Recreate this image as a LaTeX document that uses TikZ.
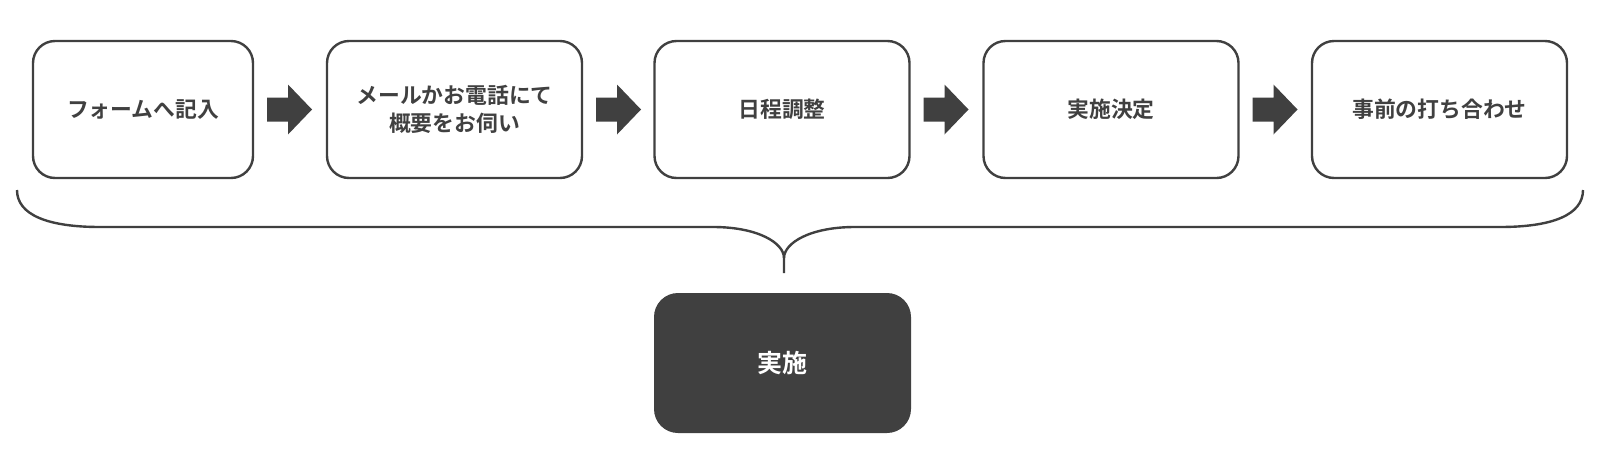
\documentclass[tikz,border=0pt]{standalone}
\usepackage{fontspec}
\newfontfamily\jp{Noto Sans CJK JP}[BoldFont={Noto Sans CJK JP Bold}]
\usetikzlibrary{calc}
\definecolor{dk}{HTML}{404040}
\begin{document}
\begin{tikzpicture}[x=1pt,y=-1pt,
  stepbox/.style={draw=dk, line width=2.4pt, rounded corners=22pt, fill=white,
    minimum width=255pt, minimum height=137pt, inner sep=0pt, outer sep=0pt,
    text=dk, font=\jp\bfseries\fontsize{21.8}{28}\selectfont, align=center},
  finalbox/.style={fill=dk, rounded corners=24pt, minimum width=257pt, minimum height=140pt,
    inner sep=0pt, text=white, font=\jp\bfseries\fontsize{25}{30}\selectfont},
  blockarrow/.style={fill=dk},
  bracestyle/.style={draw=dk, line width=2.4pt}]
\useasboundingbox (0,0) rectangle (1600,464);
\fill[white] (0,0) rectangle (1600,464);
\node[stepbox, minimum width=220pt] (b1) at (143,109.5) {フォームへ記入};
\node[stepbox] (b2) at (454.5,109.5) {メールかお電話にて\\概要をお伺い};
\node[stepbox] (b3) at (782,109.5) {日程調整};
\node[stepbox] (b4) at (1111,109.5) {実施決定};
\node[stepbox] (b5) at (1439.5,109.5) {事前の打ち合わせ};
\node[finalbox] (b6) at (782.5,363) {実施};
\foreach \s in {b1,b2,b3,b4}{
  \coordinate (a) at ($(\s.east)+(14,0)$);
  \fill[blockarrow] ($(a)+(0,-12)$) -- ++(21,0) -- ++(0,-13) -- ($(a)+(45,0)$)
    -- ($(a)+(21,25)$) -- ++(0,-13) -- ($(a)+(0,12)$) -- cycle;
}
\coordinate (bl) at (17,190);
\coordinate (br) at (1583,190);
\coordinate (bt) at (784,258);
\coordinate (bb) at (784,273);
\draw[bracestyle] (bl) .. controls (17,215) and (48,227) .. (100,227) -- (713,227)
  .. controls (758,227) and (784,243) .. (bt) -- (bb);
\draw[bracestyle] (bt) .. controls (784,243) and (810,227) .. (855,227) -- (1500,227)
  .. controls (1552,227) and (1583,215) .. (br);
\end{tikzpicture}
\end{document}
